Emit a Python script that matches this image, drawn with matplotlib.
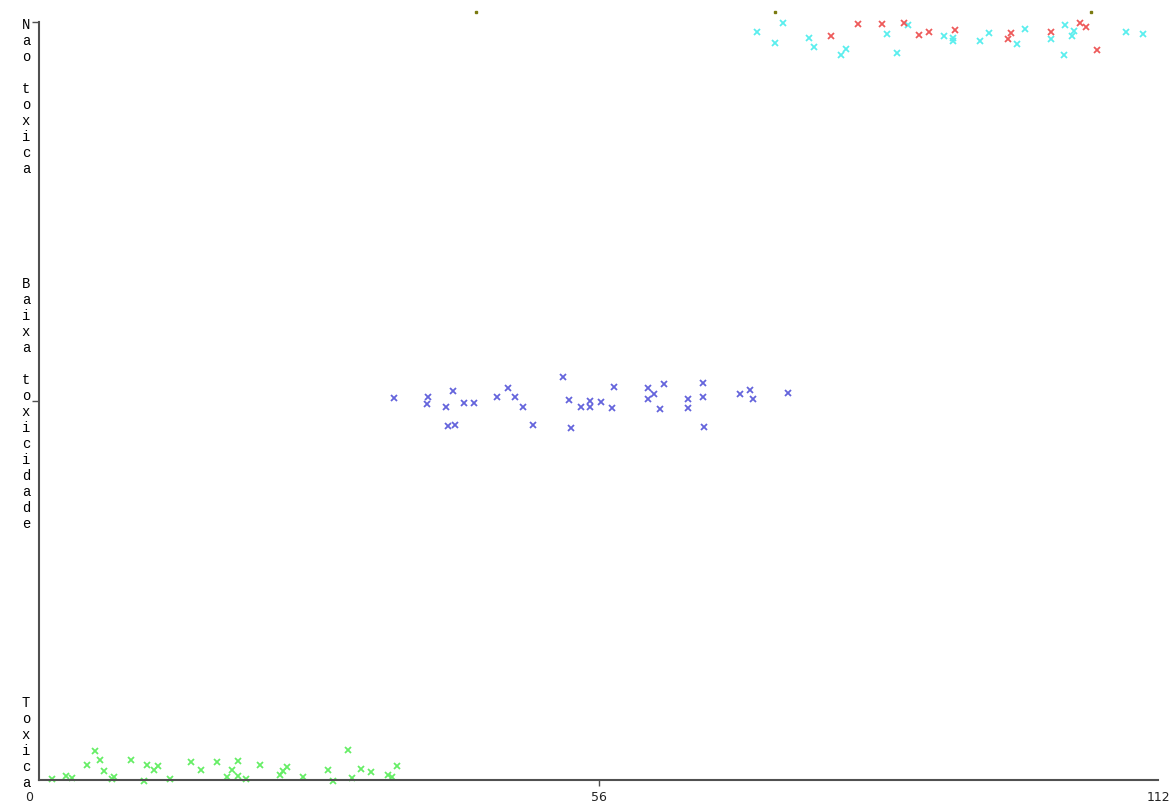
import matplotlib
matplotlib.use("Agg")
import matplotlib.pyplot as plt
from matplotlib.transforms import blended_transform_factory, offset_copy, ScaledTranslation

# classes (nominal y axis, bottom to top)
classes = ["Toxica", "Baixa toxicidade", "Nao toxica"]
x_ticks = [0, 56, 112]

# instance index vs. class value (with jitter)
toxica_x = [1.27, 2.67, 3.27, 4.77, 5.61, 6.11, 6.51, 7.28, 7.51, 9.21, 10.54, 10.78,
            11.51, 11.94, 13.11, 15.22, 16.22, 17.82, 18.79, 19.35, 19.89, 19.89, 20.69,
            22.12, 24.12, 24.45, 24.79, 26.46, 28.90, 29.40, 30.90, 31.36, 32.23, 33.23,
            34.90, 35.37, 35.81]
toxica_y = [0.003, 0.011, 0.005, 0.040, 0.077, 0.053, 0.025, 0.003, 0.008, 0.053, -0.002,
            0.040, 0.026, 0.037, 0.003, 0.047, 0.026, 0.047, 0.009, 0.026, 0.050, 0.011,
            0.003, 0.040, 0.013, 0.025, 0.034, 0.008, 0.026, -0.002, 0.079, 0.004, 0.028,
            0.020, 0.013, 0.009, 0.037]

baixa_x = [35.57, 38.97, 38.87, 41.41, 40.74, 40.97, 41.64, 42.57, 43.54, 45.82, 46.92,
           47.65, 48.48, 49.48, 52.48, 53.08, 53.22, 54.22, 55.16, 55.16, 56.26, 57.59,
           57.39, 60.99, 60.93, 61.59, 62.56, 62.16, 64.99, 64.99, 66.50, 66.50, 66.60,
           70.17, 71.17, 71.44, 75.01]
baixa_y = [1.009, 1.010, 0.992, 1.026, 0.983, 0.934, 0.937, 0.996, 0.996, 1.011, 1.035,
           1.011, 0.983, 0.937, 1.064, 1.003, 0.930, 0.983, 1.000, 0.985, 0.998, 1.038,
           0.981, 1.035, 1.004, 1.018, 1.045, 0.978, 1.004, 0.981, 1.048, 1.010, 0.932,
           1.018, 1.029, 1.004, 1.022]

nao_x = [71.82, 74.50, 73.67, 77.10, 77.60, 80.23, 80.78, 84.85, 86.96, 85.86, 90.62,
         91.52, 91.52, 94.19, 95.12, 97.93, 98.67, 101.27, 102.70, 102.62, 103.37,
         103.62, 108.79, 110.54]
nao_y = [1.974, 1.998, 1.945, 1.959, 1.935, 1.913, 1.929, 1.968, 1.991, 1.919, 1.964,
         1.959, 1.949, 1.951, 1.972, 1.942, 1.981, 1.954, 1.991, 1.913, 1.964, 1.977,
         1.974, 1.968]

nao2_x = [79.31, 82.01, 84.35, 86.59, 88.06, 89.06, 91.66, 97.33, 97.03, 101.27, 104.20,
          104.75, 105.94]
nao2_y = [1.962, 1.994, 1.994, 1.998, 1.965, 1.974, 1.979, 1.972, 1.956, 1.974, 1.998,
          1.987, 1.925]

extra_x = [43.7, 73.7, 105.3]
extra_y = [2.026, 2.026, 2.026]

W, H = 1176, 802
fig = plt.figure(figsize=(W / 100, H / 100), dpi=100)
ax = fig.add_axes([39 / W, (H - 780) / H, (1158 - 39) / W, (780 - 22) / H])
ax.set_xlim(0, 112)
ax.set_ylim(0, 2)

mk = dict(marker="x", linestyle="none", markersize=5, markeredgewidth=1.3, clip_on=False)
ax.plot(toxica_x, toxica_y, color="#66ee66", **mk)
ax.plot(baixa_x, baixa_y, color="#6464dc", **mk)
ax.plot(nao_x, nao_y, color="#5aeeee", **mk)
ax.plot(nao2_x, nao2_y, color="#ee5a5a", **mk)
ax.plot(extra_x, extra_y, "s", color="#7a7a10", markersize=1.5, clip_on=False)

for s in ["top", "right"]:
    ax.spines[s].set_visible(False)
for s in ["left", "bottom"]:
    ax.spines[s].set_color("#505050")
    ax.spines[s].set_linewidth(1.5)

ax.set_xticks(x_ticks)
ax.set_xticklabels([str(t) for t in x_ticks], fontsize=9, family="DejaVu Sans", color="#222222")
ax.tick_params(axis="x", length=4, width=1, color="#505050", pad=4)
xt = ax.xaxis.get_major_ticks()
xt[0].tick1line.set_visible(False)
xt[-1].tick1line.set_visible(False)
xt[0].label1.set_horizontalalignment("right")
xt[0].label1.set_transform(xt[0].label1.get_transform()
                           + ScaledTranslation(-6 / 100, 0, fig.dpi_scale_trans))

ax.set_yticks([0, 1, 2])
ax.set_yticklabels([])
ax.tick_params(axis="y", length=5, width=1, color="#505050")
ax.yaxis.get_major_ticks()[0].tick1line.set_visible(False)

# class names written one letter per line next to the y axis
step = 16
base = blended_transform_factory(ax.transAxes, ax.transData)
for k, name in enumerate(classes):
    n = len(name)
    if k == 0:
        first = -(n - 1) * step
    elif k == len(classes) - 1:
        first = 0
    else:
        first = -(n - 1) * step / 2
    for i, ch in enumerate(name):
        tr = offset_copy(base, fig=fig, x=-13, y=-(3 + first + i * step), units="dots")
        ax.text(0, k, ch, transform=tr, ha="center", va="center",
                family="Liberation Mono", fontsize=10, color="#000000")

fig.savefig("out.png", dpi=100)
